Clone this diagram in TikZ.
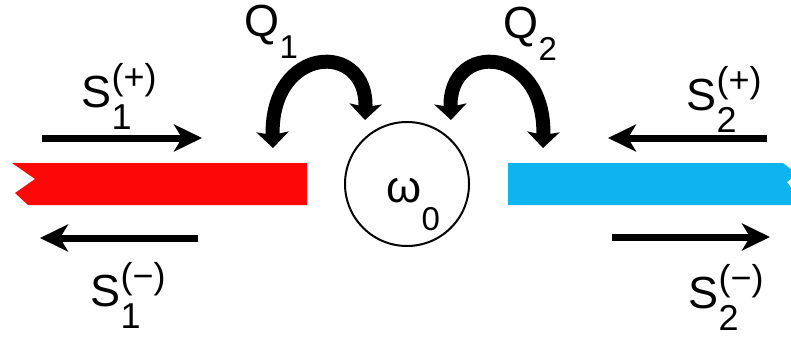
\documentclass[tikz,border=0pt]{standalone}
\usepackage{fontspec}
\setmainfont{Liberation Sans}
\usetikzlibrary{arrows.meta}

\definecolor{portred}{RGB}{252,8,8}
\definecolor{portblue}{RGB}{14,180,240}

\newcommand{\bigfont}{\fontsize{45}{50}\selectfont}
\newcommand{\smallfont}{\fontsize{36}{40}\selectfont}
\newcommand{\subfont}{\fontsize{33}{36}\selectfont}
\newcommand{\portlabel}[3]{#1\rlap{\raisebox{18pt}{\smallfont #3}}\raisebox{-22pt}{\smallfont #2}}

\begin{document}
\begin{tikzpicture}[x=1pt, y=-1pt, line width=1pt,
    lbl/.style={inner sep=0pt, anchor=base west, font=\bigfont},
    wave/.style={line width=7pt, -{Stealth[length=28pt,width=27pt,inset=8pt]}},
    coupling/.style={line width=14pt, {Stealth[length=16pt,width=32pt,inset=3pt]}-{Stealth[length=16pt,width=32pt,inset=3pt]}}]
    \useasboundingbox (0,0) rectangle (791,337);
    \clip (0,0) rectangle (791,337);

    % --- Waveguides ---
    \fill[portred] (12,163) -- (307,163) -- (307,205) -- (28,205) -- (15,193) -- (35,179) -- cycle;
    \fill[portblue] (508,163) -- (783,163) -- (797,174) -- (787,182) -- (797,196) -- (797,205) -- (508,205) -- cycle;

    % --- Resonator ---
    \node[circle, draw, line width=2pt, minimum size=124pt, inner sep=0pt] (res) at (407,184) {};
    \node[lbl] (w0) at (386,202) {ω\raisebox{-28pt}{\subfont 0}};

    % --- Wave arrows ---
    \coordinate (s1p-tail) at (42,138);
    \coordinate (s1p-tip) at (202,138);
    \coordinate (s1m-tail) at (198,238);
    \coordinate (s1m-tip) at (40,238);
    \coordinate (s2p-tail) at (767,138);
    \coordinate (s2p-tip) at (608,138);
    \coordinate (s2m-tail) at (612,237);
    \coordinate (s2m-tip) at (770,237);

    \draw[wave] (s1p-tail) -- (s1p-tip);
    \draw[wave] (s1m-tail) -- (s1m-tip);
    \draw[wave] (s2p-tail) -- (s2p-tip);
    \draw[wave] (s2m-tail) -- (s2m-tip);

    \node[lbl] (S1p) at (81,107) {\portlabel{S}{1}{(+)}};
    \node[lbl] (S1m) at (90,306) {\portlabel{S}{1}{(−)}};
    \node[lbl] (S2p) at (686,110) {\portlabel{S}{2}{(+)}};
    \node[lbl] (S2m) at (688,308) {\portlabel{S}{2}{(−)}};

    % --- Coupling arrows ---
    \coordinate (q1-out) at (273,148);
    \coordinate (q1-in) at (365,120);
    \coordinate (q2-out) at (543,148);
    \coordinate (q2-in) at (451,120);

    \draw[coupling] (q1-out) .. controls (270,45) and (368,40) .. (q1-in);
    \draw[coupling] (q2-out) .. controls (546,45) and (448,40) .. (q2-in);

    \node[lbl] (Q1) at (244,37) {Q\raisebox{-21pt}{\subfont 1}};
    \node[lbl] (Q2) at (503,38) {Q\raisebox{-22pt}{\subfont 2}};
\end{tikzpicture}
\end{document}
